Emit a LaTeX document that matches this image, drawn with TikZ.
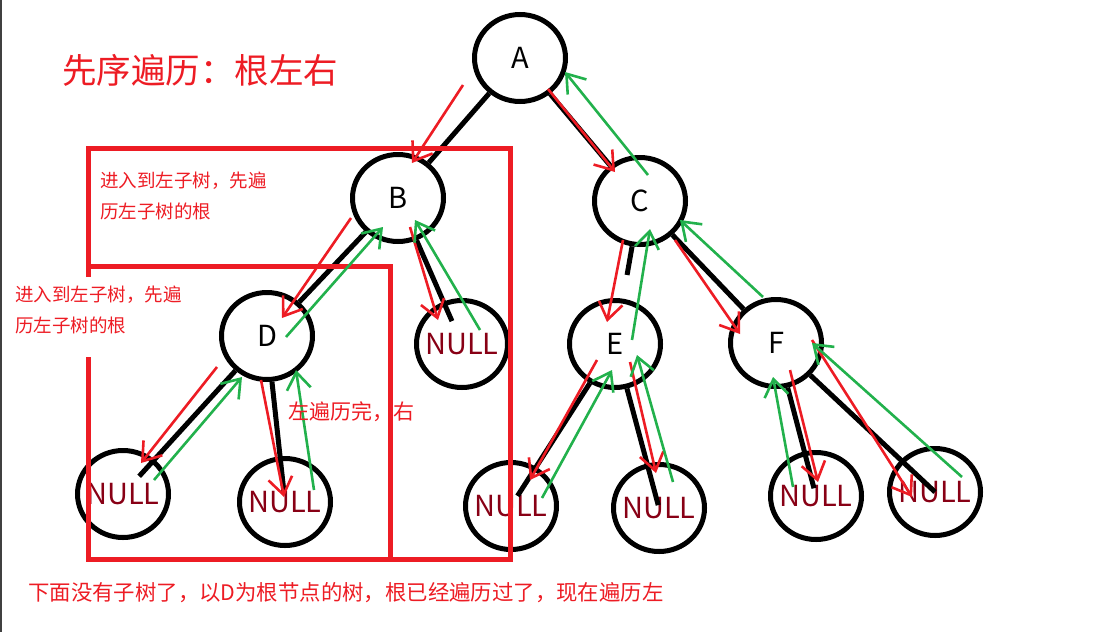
\documentclass[tikz,border=0pt]{standalone}
\usepackage{fontspec}
\setmainfont{Noto Sans CJK SC}
\usetikzlibrary{shapes.geometric,arrows.meta}
\definecolor{paintred}{RGB}{237,28,36}
\definecolor{paintgreen}{RGB}{34,177,76}
\definecolor{nullred}{RGB}{136,0,21}
\newcommand{\nulltext}{\makebox[0pt]{NULL}}

\begin{document}
\begin{tikzpicture}[x=1pt, y=-1pt,
    treenode/.style={ellipse, draw, line width=5pt, minimum width=91pt, minimum height=87pt, inner sep=0pt, font=\fontsize{29}{32}\selectfont},
    nullnode/.style={treenode, text=nullred},
    branch/.style={line width=5pt},
    goarrow/.style={paintred, line width=2.6pt, -{Straight Barb[length=17pt,width=24pt]}},
    backarrow/.style={paintgreen, line width=2.6pt, -{Straight Barb[length=17pt,width=24pt]}},
    redbox/.style={paintred, line width=5pt},
    note/.style={text=paintred, anchor=west, inner sep=0pt, align=left},
]
\useasboundingbox (0,0) rectangle (1102,632);
\draw[line width=2pt, black!75] (1,0) -- (1,632);

% Title
\node[note, font=\fontsize{34.5}{40}\selectfont] (title) at (62,70) {先序遍历：根左右};

% Tree
\node[treenode] (A) at (520,58) {A};
\node[treenode] (B) at (398,198) {B};
\node[treenode] (C) at (640,201) {C};
\node[treenode] (D) at (267,336) {D};
\node[nullnode] (nullB) at (462,344) {\nulltext};
\node[treenode] (E) at (615,344) {E};
\node[treenode] (F) at (776,343) {F};
\node[nullnode] (nullDl) at (123,494) {\nulltext};
\node[nullnode] (nullDr) at (285,502) {\nulltext};
\node[nullnode] (nullEl) at (511,506) {\nulltext};
\node[nullnode] (nullEr) at (659,508) {\nulltext};
\node[nullnode] (nullFl) at (816,496) {\nulltext};
\node[nullnode] (nullFr) at (935,492) {\nulltext};

% Branches
\draw[branch] (A) -- (B);
\draw[branch] (A) -- (C);
\draw[branch] (B) -- (D);
\draw[branch, shorten >=25pt] (B) -- (nullB.center);
\draw[branch, shorten >=24pt] (D) -- (nullDl.center);
\draw[branch, shorten >=10pt] (D) -- (nullDr.center);
\draw[branch, shorten >=24pt] (C) -- (E);
\draw[branch] (C) -- (F);
\draw[branch, shorten >=12pt] (E) -- (nullEl.center);
\draw[branch, shorten >=3pt] (E) -- (nullEr.center);
\draw[branch, shorten >=8pt] (F) -- (nullFl.center);
\draw[branch] (F) -- (nullFr.center);

% Boxes round the subtrees of B and D
\draw[redbox] (88,277) -- (88,148) -- (510,148) -- (510,559) -- (88,559) -- (88,357);
\draw[redbox] (88,266) -- (390,266) -- (390,559);

% Going down (red)
\draw[goarrow] (463,85) -- (412,163);
\draw[goarrow] (548,89) -- (615,172);
\draw[goarrow] (351,218) -- (282,318);
\draw[goarrow] (410,227) -- (438,320);
\draw[goarrow] (217,367) -- (141,463);
\draw[goarrow] (261,380) -- (284,497);
\draw[goarrow] (623,240) -- (607,322);
\draw[goarrow] (675,240) -- (740,334);
\draw[goarrow] (597,360) -- (530,480);
\draw[goarrow] (630,362) -- (656,473);
\draw[goarrow] (790,370) -- (818,482);
\draw[goarrow] (812,340) -- (912,497);

% Coming back (green)
\draw[backarrow] (648,175) -- (565,72);
\draw[backarrow] (480,330) -- (415,220);
\draw[backarrow] (286,337) -- (383,227);
\draw[backarrow] (154,480) -- (242,377);
\draw[backarrow] (314,490) -- (296,370);
\draw[backarrow] (632,340) -- (650,229);
\draw[backarrow] (763,297) -- (680,220);
\draw[backarrow] (542,498) -- (612,370);
\draw[backarrow] (673,482) -- (637,355);
\draw[backarrow] (793,487) -- (773,377);
\draw[backarrow] (962,477) -- (812,343);

% Notes
\node[note, font=\fontsize{18.5}{31}\selectfont] (notetop) at (100,195.5) {进入到左子树，先遍\\历左子树的根};
\node[note, font=\fontsize{18.5}{31}\selectfont] (noteleft) at (15,309.5) {进入到左子树，先遍\\历左子树的根};
\node[note, font=\fontsize{21}{24}\selectfont] (noteright) at (288,412) {左遍历完，右};
\node[note, font=\fontsize{21.4}{26}\selectfont] (notebottom) at (28,593) {下面没有子树了，以D为根节点的树，根已经遍历过了，现在遍历左};

\end{tikzpicture}
\end{document}
